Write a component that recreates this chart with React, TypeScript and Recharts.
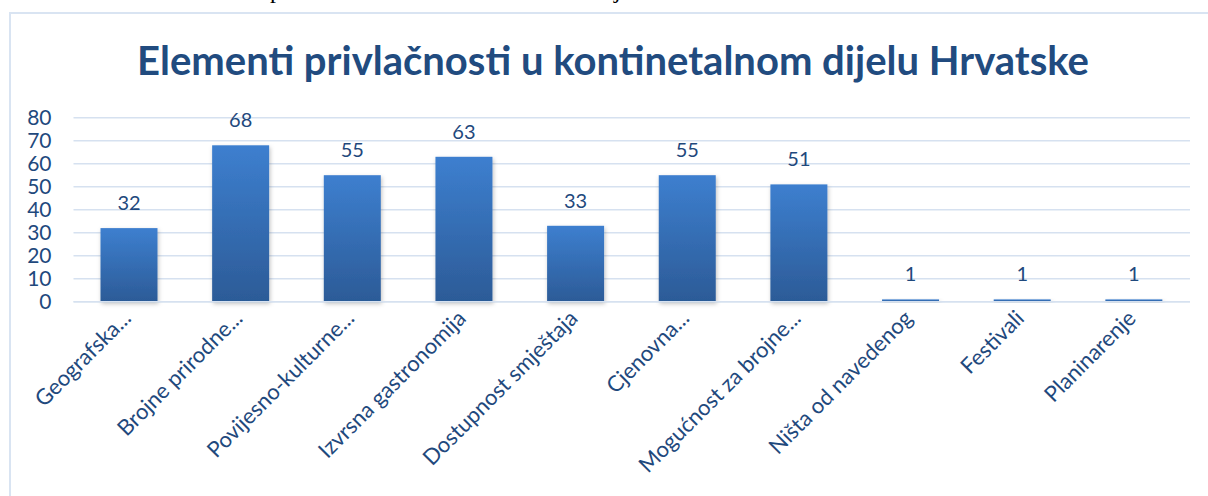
import { BarChart, Bar, XAxis, YAxis, CartesianGrid } from "recharts";

// categories, shortened the way the original chart shows them
const categories = [
  "Geografska...",
  "Brojne prirodne...",
  "Povijesno-kulturne...",
  "Izvrsna gastronomija",
  "Dostupnost smještaja",
  "Cjenovna...",
  "Mogućnost za brojne...",
  "Ništa od navedenog",
  "Festivali",
  "Planinarenje",
];
const counts = [32, 68, 55, 63, 33, 55, 51, 1, 1, 1];
const yTicks = [0, 10, 20, 30, 40, 50, 60, 70, 80];

const title = "Elementi privlačnosti u kontinetalnom dijelu Hrvatske";

const TEXT = "#1f497d";
const FONT = "Lato, 'Open Sans', sans-serif";

const chartData = categories.map((name, i) => ({ name, value: counts[i] }));

function YTick({ x, y, payload }: any) {
  return (
    <text x={x - 22} y={y} dy={7} textAnchor="end" fill={TEXT} fontSize={21} fontFamily={FONT}>
      {payload.value}
    </text>
  );
}

function XTick({ x, y, payload }: any) {
  return (
    <g transform={`translate(${x + 3},${y + 18})`}>
      <text textAnchor="end" transform="rotate(-45)" fill={TEXT} fontSize={22} fontFamily={FONT}>
        {payload.value}
      </text>
    </g>
  );
}

function BarShape(props: any) {
  const { x, y, width, height } = props;
  if (!height || height <= 0) return null;
  return (
    <rect x={x} y={y} width={width} height={height} fill="url(#barGrad)" filter="url(#barShadow)" />
  );
}

function ValueLabel(props: any) {
  const { x, y, width, value } = props;
  return (
    <text x={x + width / 2} y={y - 18} textAnchor="middle" fill={TEXT} fontSize={20} fontFamily={FONT}>
      {value}
    </text>
  );
}

export default function App() {
  return (
    <div
      style={{
        position: "fixed",
        left: 0,
        top: 0,
        width: 1208,
        height: 496,
        overflow: "hidden",
        background: "#fff",
      }}
    >
      {/* bits of the document text above the chart frame */}
      <div
        style={{
          position: "absolute",
          left: 0,
          top: 0,
          width: 1208,
          height: 11,
          overflow: "hidden",
          fontFamily: "'Liberation Serif', serif",
          fontSize: 24,
          color: "#000",
        }}
      >
        <span style={{ position: "absolute", left: 270, top: -23 }}>p</span>
        <span style={{ position: "absolute", left: 614, top: -23 }}>j</span>
      </div>

      {/* chart frame */}
      <div
        style={{
          position: "absolute",
          left: 9,
          top: 12,
          width: 1260,
          height: 520,
          border: "2px solid #d9e4f2",
          boxSizing: "border-box",
        }}
      />

      <div
        style={{
          position: "absolute",
          left: 0,
          top: 36,
          width: 1226,
          textAlign: "center",
          fontFamily: FONT,
          fontWeight: 700,
          fontSize: 40,
          lineHeight: "48px",
          color: "#214b7f",
        }}
      >
        {title}
      </div>

      <div style={{ position: "absolute", left: 0, top: 0 }}>
        <BarChart
          width={1208}
          height={496}
          data={chartData}
          margin={{ top: 117.7, right: 18, left: 0, bottom: 4.3 }}
        >
          <defs>
            <linearGradient id="barGrad" x1="0" y1="0" x2="0" y2="1">
              <stop offset="0%" stopColor="#3d7fcf" />
              <stop offset="100%" stopColor="#2c5b97" />
            </linearGradient>
            <filter id="barShadow" x="-20%" y="-20%" width="140%" height="140%">
              <feDropShadow dx="1" dy="2" stdDeviation="2" floodColor="#000" floodOpacity="0.25" />
            </filter>
          </defs>
          <CartesianGrid vertical={false} stroke="#d6e1f0" strokeWidth={1.5} />
          <XAxis
            dataKey="name"
            height={190}
            interval={0}
            axisLine={{ stroke: "#d6e1f0", strokeWidth: 1.5 }}
            tickLine={false}
            tickSize={0}
            tickMargin={0}
            tick={<XTick />}
          />
          <YAxis
            width={73.5}
            domain={[0, 80]}
            ticks={yTicks}
            axisLine={false}
            tickLine={false}
            tickSize={0}
            tickMargin={0}
            tick={<YTick />}
          />
          <Bar
            dataKey="value"
            barSize={57}
            shape={<BarShape />}
            label={<ValueLabel />}
            isAnimationActive={false}
          />
        </BarChart>
      </div>
    </div>
  );
}
